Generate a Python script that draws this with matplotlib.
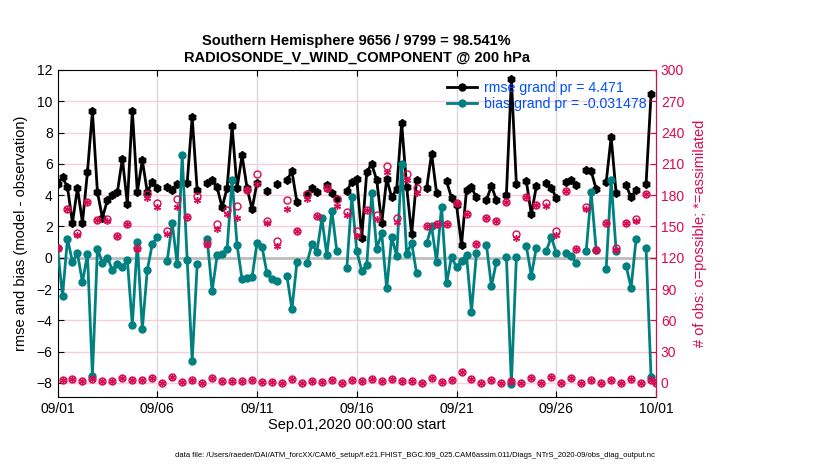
import numpy as np
import pandas as pd
import matplotlib
matplotlib.use('Agg')
import matplotlib.pyplot as plt
import matplotlib.dates as mdates
from matplotlib.lines import Line2D

plt.rcParams['font.family'] = ['Liberation Sans', 'DejaVu Sans']

nan = np.nan

# 6-hourly bins, 09/01 00Z .. 10/01 00Z
times = pd.date_range('2020-09-01 00:00', '2020-10-01 00:00', freq='6h')

rmse = [4.70, 5.15, 4.50, 2.23, 4.47, 2.23, 5.47, 9.36, 4.20, 2.55,
        3.68, 4.04, 4.18, 6.34, 3.44, 9.41, 4.19, 6.23, 4.19, 4.85,
        4.45, nan, 4.49, 4.32, 4.74, nan, 4.79, 9.00, 4.32, nan,
        4.79, 4.98, 4.50, 3.22, 4.46, 8.40, 4.45, 6.55, 4.45, 3.10,
        4.80, nan, 4.26, nan, 4.70, nan, 4.96, 5.53, 3.55, nan,
        4.08, 4.45, 4.17, nan, 4.64, 4.14, 3.78, nan, 4.26, 4.85,
        5.06, 1.28, 5.49, 5.98, 4.96, 2.19, 5.06, 3.85, 4.38, 8.62,
        4.53, 1.49, 5.00, nan, 4.43, 6.66, 4.15, nan, 4.89, 3.83,
        3.36, 0.81, 4.32, 4.49, 3.85, nan, 3.68, 4.60, 3.68, nan,
        4.04, 11.40, 4.70, nan, 4.89, 2.77, 4.57, nan, 4.79, 4.47,
        3.83, nan, 4.81, 4.96, 4.68, nan, 5.60, 5.53, 4.38, nan,
        4.81, 7.72, 4.11, nan, 4.64, 3.85, 4.32, nan, 4.70, 10.45,
        nan]

bias = [0.64, -2.45, 1.21, -0.26, 0.28, -1.57, 0.23, -7.55, 0.57, -0.32,
        0.00, -0.79, -0.40, -0.60, -0.15, -4.30, 0.98, -4.57, -0.79, 0.87,
        1.32, nan, -0.19, 2.23, -0.43, 6.55, -0.15, -6.60, -0.43, nan,
        1.21, -2.13, 0.15, 0.21, 0.55, 5.00, 0.81, -1.38, -1.32, -1.26,
        0.96, 0.70, -1.00, -1.38, -1.47, nan, -1.17, -3.30, -0.30, nan,
        -0.36, 0.87, 0.38, 2.51, 0.17, 3.00, 0.43, nan, -0.68, 3.89,
        0.43, -0.85, -0.47, 4.11, 0.58, 1.55, -1.96, 1.30, 0.13, 5.98,
        0.23, 0.96, -1.00, nan, 0.91, 2.02, -0.26, 3.26, -1.64, 0.06,
        -0.62, -0.19, 0.17, -3.45, 0.28, nan, 0.81, -1.81, -0.26, nan,
        0.06, -8.06, 0.06, nan, 0.74, -1.15, 0.64, nan, 0.43, 1.34,
        0.28, nan, 0.28, 0.13, -0.36, nan, 0.43, 4.17, 0.49, nan,
        -0.74, 4.96, 0.43, nan, -0.53, -1.91, 1.19, nan, 0.64, -7.60,
        nan]

# obs counts at 00Z/12Z (even bins)
poss_main = [129, 167, 144, 173, 156, 157, 141, 152, 129, 181,
             172, 146, 176, 159, 179, 134, 152, 166, 170, 185,
             200, 155, 136, 175, 146, 181, 160, 187, 176, 164,
             146, 166, 161, 208, 158, 200, 187, 150, 152, 152,
             172, 162, 133, 158, 155, 173, 143, 178, 171, 172,
             146, 184, 128, 169, 127, 153, 129, 153, 157, 181, 0]
used_main = [129, 167, 142, 173, 156, 155, 141, 152, 128, 177,
             169, 143, 169, 159, 175, 132, 148, 162, 158, 185,
             191, 153, 131, 167, 146, 176, 160, 186, 170, 161,
             141, 166, 157, 202, 154, 195, 182, 150, 152, 152,
             172, 162, 133, 158, 155, 173, 139, 178, 171, 170,
             142, 184, 128, 167, 127, 153, 127, 153, 155, 181, 0]
# obs counts at 06Z/18Z (odd bins)
n_off = [3, 4, 2, 4, 2, 2, 5, 3, 3, 5,
         0, 6, 1, 3, 0, 5, 2, 2, 2, 3,
         1, 1, 0, 4, 0, 2, 1, 3, 0, 3,
         2, 4, 2, 4, 2, 2, 0, 5, 1, 3,
         10, 4, 0, 3, 0, 2, 0, 5, 0, 6,
         0, 5, 0, 3, 0, 3, 0, 4, 0, 3]

nposs = np.zeros(len(times))
nused = np.zeros(len(times))
nposs[0::2] = poss_main
nused[0::2] = used_main
nposs[1::2] = n_off
nused[1::2] = n_off

pink = '#d70a53'
teal = '#008080'
ylo, yhi = -8.92, 12

fig = plt.figure(figsize=(8.3, 4.7), dpi=100)
ax = fig.add_axes([0.0693, 0.1547, 0.7211, 0.6964])
ax2 = ax.twinx()

ax.set_xlim(times[0], times[-1])
ax.set_ylim(ylo, yhi)
ax2.set_ylim((ylo + 8) * 15, (yhi + 8) * 15)

xt = pd.date_range('2020-09-01', '2020-10-01', freq='5D')
ax.set_xticks(xt)
ax.xaxis.set_major_formatter(mdates.DateFormatter('%m/%d'))
ax.set_yticks(np.arange(-8, 13, 2))
ax2.set_yticks(np.arange(0, 301, 30))

for t in xt[1:-1]:
    ax.axvline(t, color='#d9d9d9', lw=1, zorder=0)
for yv in np.arange(-8, 12, 2):
    ax.axhline(yv, color='#f5cfdc', lw=1, zorder=0)
ax.axhline(0, color='#bdbdbd', lw=2, zorder=1)

ax.plot(times, rmse, color='k', lw=2, marker='o', ms=4.5, zorder=3)
ax.plot(times, rmse, ls='none', color='k', marker=(6, 2, 0), ms=6, mew=1.2, zorder=3)
ax.plot(times, bias, color=teal, lw=2, marker='o', ms=5, zorder=4)

ax2.plot(times, nposs, ls='none', marker='o', ms=5, mfc='none', mec=pink, mew=1)
ax2.plot(times, nused, ls='none', marker=(6, 2, 0), ms=5, color=pink, mew=1)

ax.tick_params(direction='in', length=4, labelsize=10, top=True, right=False)
ax2.tick_params(direction='in', length=4, labelsize=10, colors=pink)
ax2.spines['right'].set_color(pink)
ax2.spines['left'].set_visible(False)
ax2.spines['top'].set_visible(False)
ax2.spines['bottom'].set_visible(False)

ax.set_title('Southern Hemisphere 9656 / 9799 = 98.541%\nRADIOSONDE_V_WIND_COMPONENT @ 200 hPa',
             fontsize=10.5, fontweight='bold', pad=6)
ax.set_xlabel('Sep.01,2020 00:00:00 start', fontsize=10.5, labelpad=1)
ax.set_ylabel('rmse and bias (model - observation)', fontsize=10.5, labelpad=6)
ax2.set_ylabel('# of obs: o=possible; *=assimilated', fontsize=10.5, color=pink, labelpad=6)

handles = [Line2D([], [], color='k', lw=2, marker='o', ms=5),
           Line2D([], [], color=teal, lw=2, marker='o', ms=5)]
leg = ax.legend(handles, ['rmse grand pr = 4.471', 'bias grand pr = -0.031478'],
                loc='upper left', bbox_to_anchor=(447 / 830, 1 - 81 / 470),
                bbox_transform=fig.transFigure, frameon=False, fontsize=10.2,
                borderpad=0, borderaxespad=0, handlelength=2.1,
                handletextpad=0.5, labelspacing=0.15)
for txt in leg.get_texts():
    txt.set_color('#0050ff')

fig.text(0.5, 0.03, 'data file: /Users/raeder/DAI/ATM_forcXX/CAM6_setup/f.e21.FHIST_BGC.f09_025.CAM6assim.011/Diags_NTrS_2020-09/obs_diag_output.nc',
         ha='center', va='center', fontsize=5.5)

fig.savefig('out.png', dpi=100)
